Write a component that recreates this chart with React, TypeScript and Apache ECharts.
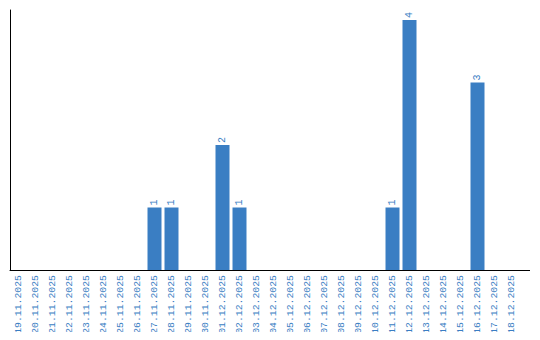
import React, { useEffect, useRef } from "react";
import * as echarts from "echarts";

const categories = [
  "19.11.2025", "20.11.2025", "21.11.2025", "22.11.2025", "23.11.2025", "24.11.2025",
  "25.11.2025", "26.11.2025", "27.11.2025", "28.11.2025", "29.11.2025", "30.11.2025",
  "01.12.2025", "02.12.2025", "03.12.2025", "04.12.2025", "05.12.2025", "06.12.2025",
  "07.12.2025", "08.12.2025", "09.12.2025", "10.12.2025", "11.12.2025", "12.12.2025",
  "13.12.2025", "14.12.2025", "15.12.2025", "16.12.2025", "17.12.2025", "18.12.2025",
];
const values: (number | null)[] = [
  null, null, null, null, null, null, null, null, 1, 1, null, null,
  2, 1, null, null, null, null, null, null, null, null, 1, 4,
  null, null, null, 3, null, null,
];

const BLUE = "#3a7ec3";
const FONT = "Liberation Mono";

export default function App() {
  const ref = useRef<HTMLDivElement>(null);
  useEffect(() => {
    if (!ref.current) return;
    const chart = echarts.init(ref.current, undefined, { renderer: "svg" });
    chart.setOption({
      animation: false,
      grid: { left: 10, right: 20, top: 10, bottom: 70, containLabel: false },
      graphic: [
        {
          type: "line",
          shape: { x1: 519, y1: 270.5, x2: 530, y2: 270.5 },
          style: { stroke: "#000", lineWidth: 1 },
        },
      ],
      xAxis: {
        type: "category",
        data: categories,
        axisLine: { lineStyle: { color: "#000", width: 1 } },
        axisTick: { show: false },
        axisLabel: {
          rotate: 90,
          interval: 0,
          margin: 5,
          color: BLUE,
          fontFamily: FONT,
          fontSize: 9.8,
        },
      },
      yAxis: {
        type: "value",
        min: 0,
        max: 4.16,
        axisLine: { show: true, lineStyle: { color: "#000", width: 1 } },
        axisTick: { show: false },
        axisLabel: { show: false },
        splitLine: { show: false },
      },
      series: [
        {
          type: "bar",
          data: values,
          barWidth: 14,
          itemStyle: { color: BLUE },
          label: {
            show: true,
            position: "top",
            rotate: 90,
            align: "left",
            verticalAlign: "middle",
            distance: 2,
            color: BLUE,
            fontFamily: FONT,
            fontSize: 10,
          },
        },
      ],
    });
    return () => chart.dispose();
  }, []);
  return <div ref={ref} style={{ width: 540, height: 340, margin: -8 }} />;
}
